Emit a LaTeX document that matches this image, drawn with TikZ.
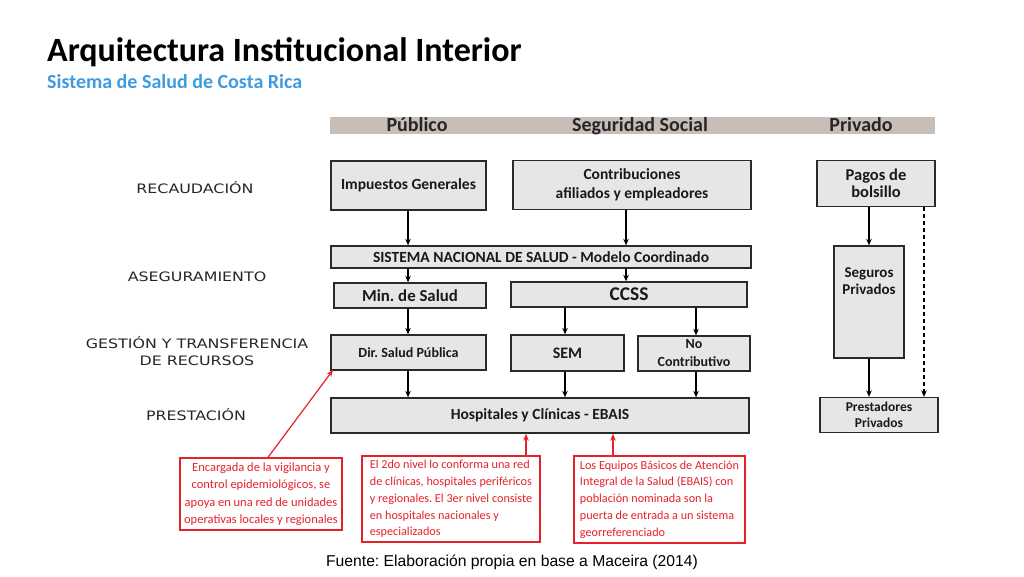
\documentclass[tikz,border=0pt]{standalone}
\usepackage{fontspec}
\setmainfont{Carlito}
\newfontfamily\verd[FakeStretch=1.22]{DejaVu Sans}
\newfontfamily\arialf{Liberation Sans}
\usetikzlibrary{arrows.meta}
\definecolor{boxfill}{HTML}{E6E6E6}
\definecolor{boxline}{HTML}{2A2A2A}
\definecolor{hdrfill}{HTML}{C8BDB7}
\definecolor{subblue}{HTML}{3D9BE0}
\definecolor{notered}{HTML}{E5222A}
\tikzset{
  box/.style={draw=boxline, line width=1.3pt, fill=boxfill, inner sep=1pt, align=center, font=\bfseries, text=black!90},
  note/.style={draw=notered, line width=1.3pt, fill=white, inner sep=0pt, text=notered},
  lvl/.style={font=\verd\fontsize{13}{17}\selectfont, text=black!85, align=center},
  arr/.style={line width=1.1pt, -{Stealth[length=6.5pt,width=5.5pt]}},
  redarr/.style={draw=notered, line width=1.2pt, -{Stealth[length=7pt,width=5.5pt]}},
  hdr/.style={font=\bfseries\fontsize{20}{22}\selectfont, text=black!85, anchor=base, inner sep=0pt}
}
\begin{document}
\frenchspacing
\begin{tikzpicture}[x=1pt,y=-1pt]
\useasboundingbox (0,0) rectangle (1024,576);
% titles
\node[anchor=base west, inner sep=0pt, font=\bfseries\fontsize{34}{38}\selectfont] (title) at (47,61) {Arquitectura Institucional Interior};
\node[anchor=base west, inner sep=0pt, font=\bfseries\fontsize{20}{22}\selectfont, text=subblue] (subtitle) at (47,88) {Sistema de Salud de Costa Rica};
% header bar
\node[fill=hdrfill, minimum width=605pt, minimum height=17pt, inner sep=0pt] (bar) at (632.5,125.5) {};
\node[hdr] (hpub) at (417,131.5) {Público};
\node[hdr] (hseg) at (640,131.5) {Seguridad Social};
\node[hdr] (hpri) at (861,131.5) {Privado};
% level labels
\node[lvl] (l1) at (195,188) {RECAUDACIÓN};
\node[lvl] (l2) at (197,277) {ASEGURAMIENTO};
\node[lvl] (l3) at (197,351.5) {GESTIÓN Y TRANSFERENCIA\\DE RECURSOS};
\node[lvl] (l4) at (196,415) {PRESTACIÓN};
% boxes
\node[box, minimum width=155pt, minimum height=49pt, font=\bfseries\fontsize{15.5}{18}\selectfont] (imp) at (408.5,185.5) {Impuestos Generales};
\node[box, minimum width=238pt, minimum height=49pt, font=\bfseries\fontsize{15.5}{18.5}\selectfont] (con) at (632,185) {Contribuciones\\afiliados y empleadores};
\node[box, minimum width=118pt, minimum height=46pt, font=\bfseries\fontsize{16.5}{17.5}\selectfont] (pag) at (876,183.5) {Pagos de\\bolsillo};
\node[box, minimum width=420pt, minimum height=22pt, font=\bfseries\fontsize{15.5}{17}\selectfont] (sns) at (541,257) {SISTEMA NACIONAL DE SALUD - Modelo Coordinado};
\node[box, minimum width=152pt, minimum height=25pt, font=\bfseries\fontsize{16.8}{18}\selectfont] (min) at (410,295.5) {Min. de Salud};
\node[box, minimum width=236pt, minimum height=25pt, font=\bfseries\fontsize{19.4}{20}\selectfont] (ccss) at (629,294.5) {CCSS};
\node[box, minimum width=70pt, minimum height=112pt] (seg) at (869,302) {};
\node[font=\bfseries\fontsize{15}{17}\selectfont, align=center, text=black!90] (segt) at (869,281) {Seguros\\Privados};
\node[box, minimum width=155pt, minimum height=35pt, font=\bfseries\fontsize{14}{16}\selectfont] (dir) at (408.5,352.5) {Dir. Salud Pública};
\node[box, minimum width=113pt, minimum height=36pt, font=\bfseries\fontsize{16}{18}\selectfont] (sem) at (567.5,353) {SEM};
\node[box, minimum width=112pt, minimum height=35pt, font=\bfseries\fontsize{14}{18}\selectfont] (noc) at (694,353.5) {No\\Contributivo};
\node[box, minimum width=418pt, minimum height=35pt, font=\bfseries\fontsize{15.5}{17}\selectfont] (hos) at (540,415.5) {Hospitales y Clínicas - EBAIS};
\node[box, minimum width=118pt, minimum height=35pt, font=\bfseries\fontsize{13.5}{16.5}\selectfont] (pre) at (879,415) {Prestadores\\Privados};
% notes
\node[note, minimum width=162pt, minimum height=72pt, align=center, font=\fontsize{12.5}{17.5}\selectfont] (n1) at (261,494) {Encargada de la vigilancia y\\control epidemiológicos, se\\apoya en una red de unidades\\operativas locales y regionales};
\node[note, minimum width=178pt, minimum height=86pt, align=left, font=\fontsize{12.2}{16.8}\selectfont] (n2) at (451,499) {El 2do nivel lo conforma una red\\de clínicas, hospitales periféricos\\y regionales. El 3er nivel consiste\\en hospitales nacionales y\\especializados};
\node[note, minimum width=171pt, minimum height=87pt, align=left, font=\fontsize{12.2}{16.8}\selectfont] (n3) at (659.5,499.5) {Los Equipos Básicos de Atención\\Integral de la Salud (EBAIS) con\\población nominada son la\\puerta de entrada a un sistema\\georreferenciado};
% footer
\node[font=\arialf\fontsize{15.7}{17}\selectfont] (foot) at (512,562) {Fuente: Elaboración propia en base a Maceira (2014)};
% arrow x positions
\coordinate (xa) at (408,0);
\coordinate (xb) at (626,0);
\coordinate (xc) at (565,0);
\coordinate (xd) at (696,0);
\coordinate (xe) at (869,0);
\coordinate (xf) at (924,0);
\coordinate (xg) at (268,0);
\coordinate (xh) at (526,0);
\coordinate (xi) at (613,0);
\coordinate (tipd) at (333,370);
% black arrows
\draw[arr] (imp.south -| xa) -- (sns.north -| xa);
\draw[arr] (con.south -| xb) -- (sns.north -| xb);
\draw[arr] (sns.south -| xa) -- (min.north -| xa);
\draw[arr] (sns.south -| xb) -- (ccss.north -| xb);
\draw[arr] (min.south -| xa) -- (dir.north -| xa);
\draw[arr] (ccss.south -| xc) -- (sem.north -| xc);
\draw[arr] (ccss.south -| xd) -- (noc.north -| xd);
\draw[arr] (dir.south -| xa) -- (hos.north -| xa);
\draw[arr] (sem.south -| xc) -- (hos.north -| xc);
\draw[arr] (noc.south -| xd) -- (hos.north -| xd);
\draw[arr] (pag.south -| xe) -- (seg.north -| xe);
\draw[arr] (seg.south -| xe) -- (pre.north -| xe);
\draw[arr, dash pattern=on 4pt off 3pt] (pag.south -| xf) -- (pre.north -| xf);
% red arrows
\draw[redarr] (n1.north -| xg) -- (tipd);
\draw[redarr] (n2.north -| xh) -- (hos.south -| xh);
\draw[redarr] (n3.north -| xi) -- (hos.south -| xi);
\end{tikzpicture}
\end{document}
